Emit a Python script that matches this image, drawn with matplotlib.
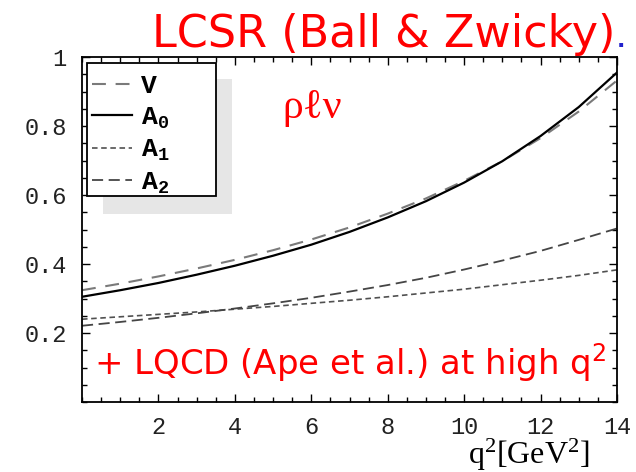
import matplotlib
matplotlib.use("Agg")
import matplotlib.pyplot as plt
from matplotlib.patches import Rectangle
from matplotlib.ticker import MultipleLocator, FixedLocator
from matplotlib.font_manager import FontProperties

plt.rcParams["mathtext.default"] = "regular"
plt.rcParams["lines.scale_dashes"] = False

# ---- data ----
q2 = [0, 1, 2, 3, 4, 5, 6, 7, 8, 9, 10, 11, 12, 13, 14]
V  = [0.324, 0.343, 0.364, 0.387, 0.412, 0.440, 0.471, 0.506, 0.546, 0.590, 0.641, 0.698, 0.765, 0.842, 0.932]
A0 = [0.305, 0.324, 0.345, 0.369, 0.395, 0.424, 0.456, 0.493, 0.535, 0.582, 0.636, 0.698, 0.771, 0.855, 0.955]
A1 = [0.240, 0.247, 0.254, 0.261, 0.269, 0.277, 0.286, 0.295, 0.305, 0.316, 0.327, 0.340, 0.353, 0.367, 0.383]
A2 = [0.221, 0.232, 0.244, 0.257, 0.271, 0.286, 0.302, 0.320, 0.339, 0.360, 0.384, 0.410, 0.438, 0.470, 0.503]
labels = ["V", "A$_0$", "A$_1$", "A$_2$"]
xticks = [2, 4, 6, 8, 10, 12, 14]
yticks = [0.2, 0.4, 0.6, 0.8, 1.0]
yticklabels = ["0.2", "0.4", "0.6", "0.8", "1"]

W, H = 636, 472
fig = plt.figure(figsize=(W / 100, H / 100), dpi=100)
fig.patch.set_facecolor("white")
ax = fig.add_axes([82 / W, 1 - 402 / H, (617 - 82) / W, (402 - 57) / H])

styles = [
    dict(color="#7a7a7a", lw=1.5, dashes=(10, 7)),
    dict(color="black", lw=1.6),
    dict(color="#505050", lw=1.2, dashes=(4, 2.6)),
    dict(color="#454545", lw=1.3, dashes=(8, 4)),
]
handles = []
for y, st, lab in zip([V, A0, A1, A2], styles, labels):
    h, = ax.plot(q2, y, label=lab, **st)
    handles.append(h)

ax.set_xlim(0, 14)
ax.set_ylim(0, 1)
ax.xaxis.set_major_locator(FixedLocator(xticks))
ax.xaxis.set_minor_locator(MultipleLocator(0.5))
ax.yaxis.set_major_locator(FixedLocator(yticks))
ax.yaxis.set_minor_locator(MultipleLocator(0.05))
ax.set_yticklabels(yticklabels)
ax.tick_params(which="both", direction="in", top=True, right=True, width=1.0)
ax.tick_params(which="major", length=6)
ax.tick_params(which="minor", length=3.5)
ax.tick_params(axis="y", pad=11)
ax.tick_params(axis="x", pad=10)
for lab in ax.get_xticklabels() + ax.get_yticklabels():
    lab.set_fontfamily("Liberation Mono")
    lab.set_fontsize(17)
    lab.set_color("#222222")
for s in ax.spines.values():
    s.set_linewidth(1.3)

# legend shadow and frame
ax.add_patch(Rectangle((103 / W, 1 - 214 / H), (232 - 103) / W, (214 - 79) / H,
                       transform=fig.transFigure, facecolor="#e6e6e6",
                       edgecolor="none", zorder=4, clip_on=False))
ax.add_patch(Rectangle((87 / W, 1 - 196 / H), (216 - 87) / W, (196 - 63) / H,
                       transform=fig.transFigure, facecolor="white",
                       edgecolor="black", lw=1.3, zorder=5, clip_on=False))
leg = ax.legend(handles=handles, loc="upper left",
                bbox_to_anchor=(92 / W, 1 - 74 / H), bbox_transform=fig.transFigure,
                frameon=False,
                prop=FontProperties(family="Liberation Mono", weight="bold", size=19),
                handlelength=1.5, handletextpad=0.35, labelspacing=0.28,
                borderpad=0, borderaxespad=0)
leg.set_zorder(6)

# texts
red = "#ff0000"
fig.text(615 / W, 1 - 47 / H, "LCSR (Ball & Zwicky)", color=red, fontsize=32,
         family="DejaVu Sans", ha="right", va="baseline")
fig.text(617 / W, 1 - 47 / H, ".", color="#2222cc", fontsize=16, weight="bold",
         family="DejaVu Sans", ha="left", va="baseline")
fig.text(282 / W, 1 - 118 / H, "ρℓν", color=red, fontsize=30,
         family=["Liberation Serif", "DejaVu Serif"], ha="left", va="baseline")
fig.text(94 / W, 1 - 375 / H, "+ LQCD (Ape et al.) at high q$^2$", color=red,
         fontsize=24.5, family="DejaVu Sans", ha="left", va="baseline")
fig.text(468 / W, 1 - 464 / H, "q$^2$[GeV$^2$]", color="black", fontsize=23,
         family="Liberation Serif", ha="left", va="baseline")

fig.savefig("out.png", dpi=100)
